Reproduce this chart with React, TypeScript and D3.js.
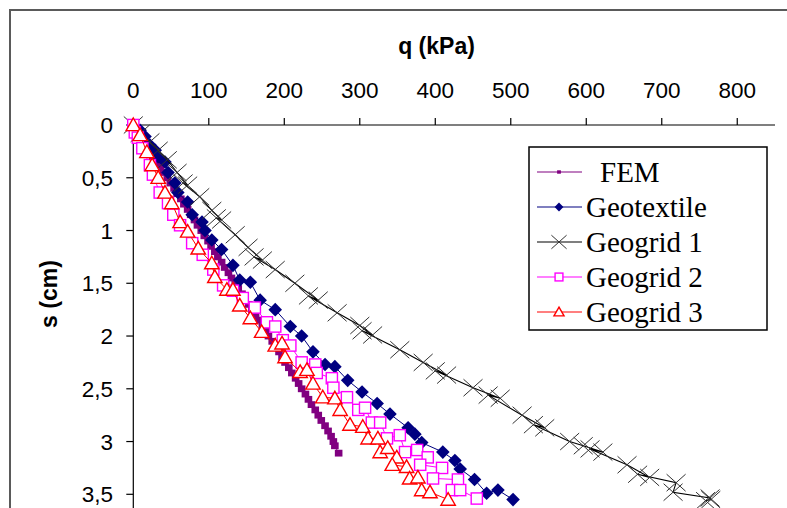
import React from "react";
import * as d3 from "d3";

type P = [number, number];

const xTicks = [0, 100, 200, 300, 400, 500, 600, 700, 800];
const yTicks = [0, 0.5, 1, 1.5, 2, 2.5, 3, 3.5];
const seriesNames = ["FEM", "Geotextile", "Geogrid 1", "Geogrid 2", "Geogrid 3"];
const seriesColors = ["#800080", "#000080", "#000000", "#FF00FF", "#FF0000"];

const femData: P[] = [
  [0, 0], [4, 0.05], [9, 0.1], [13, 0.15], [18, 0.2], [22, 0.25], [27, 0.3], [31, 0.35],
  [36, 0.4], [40, 0.45], [45, 0.5], [49, 0.55], [54, 0.6], [58, 0.65], [63, 0.7], [67, 0.75],
  [72, 0.8], [76, 0.85], [81, 0.9], [85, 0.95], [90, 1.0], [94, 1.05], [99, 1.1], [103, 1.15],
  [108, 1.2], [112, 1.25], [117, 1.3], [121, 1.35], [126, 1.4], [130, 1.45], [135, 1.5],
  [139, 1.55], [144, 1.6], [148, 1.65], [153, 1.7], [157, 1.75], [162, 1.8], [166, 1.85],
  [171, 1.9], [175, 1.95], [179, 2.0], [184, 2.05], [188, 2.1], [193, 2.15], [197, 2.2],
  [201, 2.25], [206, 2.3], [210, 2.35], [215, 2.4], [219, 2.45], [223, 2.5], [228, 2.55],
  [232, 2.6], [236, 2.65], [241, 2.7], [245, 2.75], [249, 2.8], [254, 2.85], [258, 2.9],
  [262, 2.95], [265, 3.0], [267, 3.04], [272, 3.11],
];

const geotextileData: P[] = [
  [0, 0], [9, 0.05], [15.5, 0.11], [22, 0.19], [29, 0.24], [33, 0.3], [42, 0.35], [46, 0.45],
  [55, 0.55], [59, 0.64], [72, 0.73], [78, 0.85], [91, 0.92], [95, 1.0], [104, 1.09],
  [117, 1.18], [132, 1.33], [141, 1.47], [155, 1.49], [168, 1.66], [188, 1.75], [208, 1.91],
  [223, 2.0], [238, 2.15], [254, 2.27], [267, 2.29], [284, 2.42], [303, 2.53], [323, 2.64],
  [340, 2.74], [364, 2.87], [373, 2.93], [382, 3.01], [410, 3.1], [426, 3.18], [433, 3.26],
  [452, 3.36], [468, 3.49], [483, 3.46], [503, 3.55],
];

const geogrid1Data: P[] = [
  [0, 0], [9, 0.08], [22, 0.16], [33, 0.24], [45, 0.33], [58, 0.45], [72, 0.57], [66, 0.55],
  [88, 0.68], [104, 0.81], [117, 0.9], [110, 0.88], [135, 1.04], [152, 1.16], [171, 1.28],
  [160, 1.25], [188, 1.37], [214, 1.5], [245, 1.66], [232, 1.62], [270, 1.78], [300, 1.9],
  [317, 1.99], [303, 1.95], [353, 2.13], [384, 2.25], [415, 2.37], [400, 2.33], [450, 2.49],
  [486, 2.59], [470, 2.56], [515, 2.75], [545, 2.87], [530, 2.84], [578, 3.0], [596, 3.04],
  [622, 3.1], [605, 3.07], [654, 3.22], [684, 3.34], [668, 3.31], [719, 3.39], [715, 3.48],
  [764, 3.535], [765, 3.55], [758, 3.56],
];

const geogrid2Data: P[] = [
  [0, 0], [2, 0.07], [6, 0.12], [12, 0.22], [22, 0.38], [26, 0.47], [35, 0.64], [46, 0.74],
  [53, 0.85], [62, 0.95], [78, 1.12], [92, 1.23], [106, 1.37], [119, 1.52], [132, 1.57],
  [145, 1.64], [161, 1.73], [177, 1.87], [188, 1.91], [198, 2.04], [208, 2.09], [223, 2.25],
  [241, 2.27], [243, 2.35], [263, 2.4], [265, 2.49], [283, 2.58], [298, 2.7], [307, 2.68],
  [316, 2.82], [327, 2.82], [336, 2.97], [353, 2.94], [360, 3.1], [376, 3.08], [390, 3.15],
  [380, 3.22], [409, 3.25], [397, 3.35], [430, 3.36], [422, 3.46], [433, 3.46], [455, 3.54],
];

const geogrid3Data: P[] = [
  [0, 0], [9, 0.095], [18, 0.256], [25, 0.38], [33, 0.5], [42, 0.64], [51, 0.74], [62, 0.92],
  [72, 1.01], [86, 1.17], [104, 1.31], [108, 1.44], [124, 1.56], [132, 1.56], [141, 1.71],
  [155, 1.83], [170, 1.96], [188, 2.09], [197, 2.07], [201, 2.2], [221, 2.34], [230, 2.32],
  [238, 2.45], [251, 2.58], [267, 2.59], [274, 2.7], [287, 2.84], [304, 2.86], [311, 2.97],
  [324, 2.97], [327, 3.1], [337, 3.06], [349, 3.15], [343, 3.22], [362, 3.24], [366, 3.35],
  [377, 3.34], [382, 3.46], [393, 3.48], [417, 3.55],
];

const seriesData = [femData, geotextileData, geogrid1Data, geogrid2Data, geogrid3Data];

const x = d3.scaleLinear().domain([0, 850]).range([133.3, 775]);
const y = d3.scaleLinear().domain([0, 3.5]).range([125, 494.3]);
const locale = d3.formatLocale({ decimal: ",", thousands: ".", grouping: [3], currency: ["", ""] });
const fmtY = locale.format(".2~f");

const line = d3.line<P>().x((d) => x(d[0])).y((d) => y(d[1]));

function Marker({ kind, cx, cy, color, k = 1 }: { kind: number; cx: number; cy: number; color: string; k?: number }) {
  const t = `translate(${cx},${cy}) scale(${k})`;
  if (kind === 0)
    return <rect transform={t} x={-3.8} y={-3.4} width={7.6} height={6.8} fill={color} />;
  if (kind === 1) return <path transform={t} d="M0,-6.8L6.8,0L0,6.8L-6.8,0Z" fill={color} />;
  if (kind === 2)
    return (
      <path
        transform={t}
        d="M-9.5,-8.5L9.5,8.5M-9.5,8.5L9.5,-8.5"
        stroke="#333"
        strokeWidth={1 / k}
        fill="none"
      />
    );
  if (kind === 3)
    return (
      <rect transform={t} x={-5.6} y={-5.6} width={11.2} height={11.2} fill="#fff" stroke={color} strokeWidth={1.4 / k} />
    );
  return <path transform={t} d="M0,-7L7.2,5.6L-7.2,5.6Z" fill="#fff" stroke={color} strokeWidth={1.4 / k} />;
}

export default function App() {
  const sans = "'Liberation Sans', Arial, sans-serif";
  const serif = "'Liberation Serif', 'Times New Roman', serif";
  const legendScale = [0.5, 0.65, 0.8, 0.7, 0.7];
  return (
    <svg width={787} height={508} style={{ position: "absolute", left: 0, top: 0, background: "#fff" }}>
      <rect x={0} y={0} width={787} height={508} fill="#fff" />
      <rect x={10} y={10} width={800} height={520} fill="none" stroke="#5a5a5a" strokeWidth={2} />

      {/* axes */}
      <line x1={x(0)} x2={x(850)} y1={y(0)} y2={y(0)} stroke="#000" strokeWidth={1.2} />
      <line x1={x(0)} x2={x(0)} y1={y(0)} y2={y(3.75)} stroke="#000" strokeWidth={1.2} />
      {xTicks.map((t) => (
        <g key={"xt" + t}>
          <line x1={x(t)} x2={x(t)} y1={y(0)} y2={y(0) - 7} stroke="#000" strokeWidth={1.2} />
          <text x={x(t)} y={98} textAnchor="middle" fontFamily={sans} fontSize={22.5} fill="#000">
            {t}
          </text>
        </g>
      ))}
      {yTicks.map((t) => (
        <g key={"yt" + t}>
          <line x1={x(0) - 7} x2={x(0)} y1={y(t)} y2={y(t)} stroke="#000" strokeWidth={1.2} />
          <text x={113} y={y(t)} dy="0.36em" textAnchor="end" fontFamily={sans} fontSize={22.5} fill="#000">
            {fmtY(t)}
          </text>
        </g>
      ))}
      <text x={436.5} y={54} textAnchor="middle" fontFamily={sans} fontWeight="bold" fontSize={23} fill="#000">
        q (kPa)
      </text>
      <text
        transform="translate(57,294) rotate(-90)"
        textAnchor="middle"
        fontFamily={sans}
        fontWeight="bold"
        fontSize={23}
        fill="#000"
      >
        s (cm)
      </text>

      {/* series */}
      {seriesData.map((data, i) => (
        <g key={"s" + i}>
          <path d={line(data) || ""} fill="none" stroke={seriesColors[i]} strokeWidth={i === 2 ? 1.1 : 1} />
          {data.map((d, j) => (
            <Marker key={j} kind={i} cx={x(d[0])} cy={y(d[1])} color={seriesColors[i]} />
          ))}
        </g>
      ))}

      {/* legend */}
      <rect x={529} y={147} width={238} height={183} fill="#fff" stroke="#000" strokeWidth={1.5} />
      {seriesNames.map((name, i) => {
        const ly = 172 + i * 35;
        return (
          <g key={"lg" + i}>
            <line x1={537} x2={582} y1={ly} y2={ly} stroke={seriesColors[i]} strokeWidth={1.1} />
            <Marker kind={i} cx={559} cy={ly} color={seriesColors[i]} k={legendScale[i]} />
            <text x={i === 0 ? 600 : 586} y={ly + 9.5} fontFamily={serif} fontSize={29} fill="#000">
              {name}
            </text>
          </g>
        );
      })}
    </svg>
  );
}
